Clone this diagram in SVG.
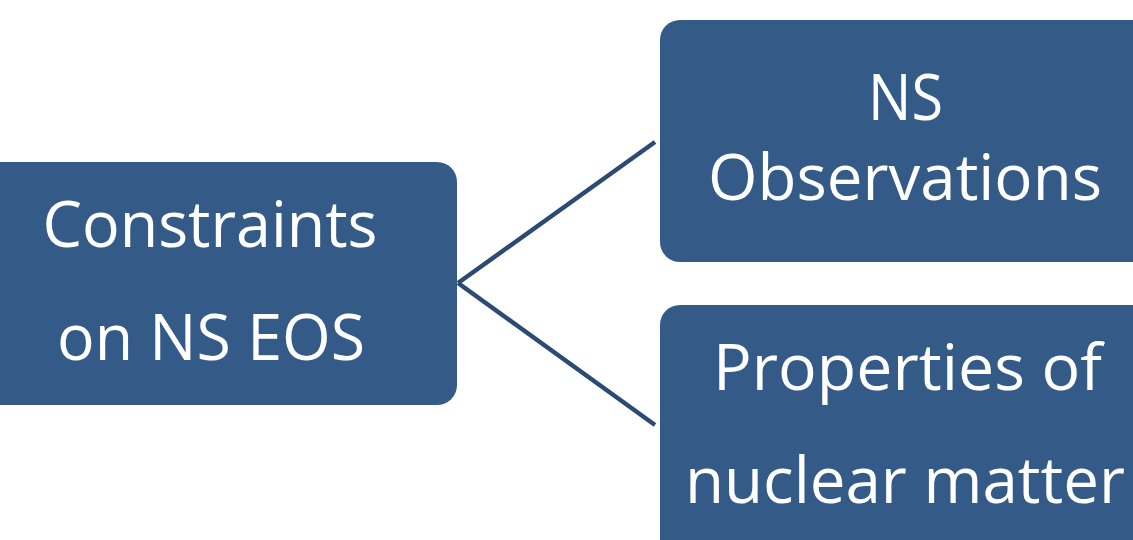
<svg xmlns="http://www.w3.org/2000/svg" width="1133" height="540" viewBox="0 0 1133 540">
<style>
.box{fill:#345a88;}
.lbl{font-family:"Open Sans","Liberation Sans",sans-serif;font-size:64px;fill:#ffffff;text-anchor:middle;}
.conn{stroke:#2c4b72;stroke-width:4.5;fill:none;}
</style>
<rect x="0" y="0" width="1133" height="540" fill="#ffffff"/>
<g id="connectors">
<line class="conn" x1="458" y1="283" x2="655" y2="142"/>
<line class="conn" x1="458" y1="283" x2="655" y2="425"/>
</g>
<g id="node-constraints">
<rect class="box" x="-30" y="162" width="487" height="243" rx="20"/>
<text class="lbl" x="210" y="247" textLength="335" lengthAdjust="spacingAndGlyphs">Constraints</text>
<text class="lbl" x="211" y="360" textLength="308" lengthAdjust="spacingAndGlyphs">on NS EOS</text>
</g>
<g id="node-observations">
<rect class="box" x="660" y="20" width="500" height="242" rx="20"/>
<text class="lbl" x="905.5" y="120" textLength="75" lengthAdjust="spacingAndGlyphs">NS</text>
<text class="lbl" x="905" y="200" textLength="394" lengthAdjust="spacingAndGlyphs">Observations</text>
</g>
<g id="node-nuclear">
<rect class="box" x="660" y="305" width="500" height="260" rx="20"/>
<text class="lbl" x="907.5" y="390" textLength="389" lengthAdjust="spacingAndGlyphs">Properties of</text>
<text class="lbl" x="905" y="503" textLength="440" lengthAdjust="spacingAndGlyphs">nuclear matter</text>
</g>
</svg>
